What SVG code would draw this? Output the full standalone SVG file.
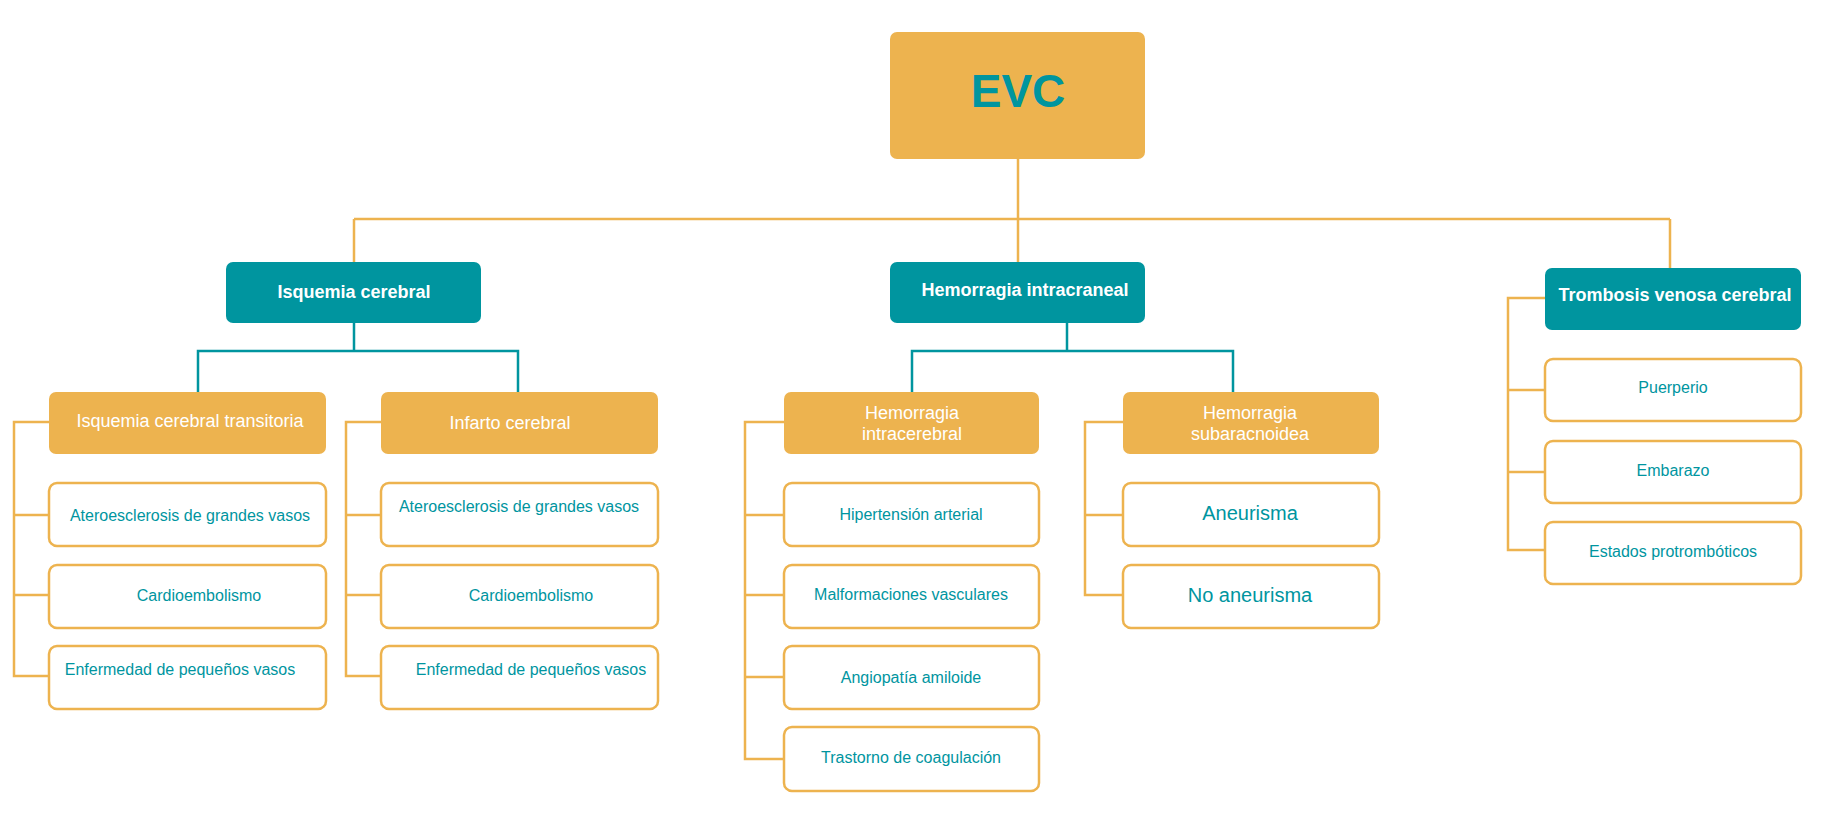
<svg xmlns="http://www.w3.org/2000/svg" width="1834" height="820" viewBox="0 0 1834 820">
<style>
.or{fill:#EDB34F}
.tl{fill:#00959F}
.wb{fill:#fff;stroke:#EDB34F;stroke-width:2.5}
.co{fill:none;stroke:#EDB34F;stroke-width:2.5}
.ct{fill:none;stroke:#00959F;stroke-width:2.5}
text{font-family:"Liberation Sans",Arial,sans-serif;text-anchor:middle}
.t1{fill:#fff;font-weight:bold;font-size:18px}
.t2{fill:#fff;font-size:18px}
.t3{fill:#00959F;font-size:16px}
.t4{fill:#00959F;font-size:20px}
</style>
<rect width="1834" height="820" fill="#fff"/>
<g id="connectors">
<path class="co" d="M1018 159V262M354 219H1670M354 219V262M1670 219V268"/>
<path class="ct" d="M354 323V351M198 392V351H518V392M1067 323V351M912 392V351H1233V392"/>
<path class="co" d="M49 422H14V676H49M14 515H49M14 595H49"/>
<path class="co" d="M381 422H346V676H381M346 515H381M346 595H381"/>
<path class="co" d="M784 422H745V759H784M745 515H784M745 595H784M745 677H784"/>
<path class="co" d="M1123 422H1085V595H1123M1085 515H1123"/>
<path class="co" d="M1545 298H1508V550H1545M1508 390H1545M1508 472H1545"/>
</g>
<g id="evc"><rect class="or" x="890" y="32" width="255" height="127" rx="7"/><text x="1018" y="107" style="fill:#00959F;font-weight:bold;font-size:46px">EVC</text></g>
<g id="isq"><rect class="tl" x="226" y="262" width="255" height="61" rx="7"/><text class="t1" x="354" y="298">Isquemia cerebral</text></g>
<g id="hic0"><rect class="tl" x="890" y="262" width="255" height="61" rx="7"/><text class="t1" x="1025" y="296">Hemorragia intracraneal</text></g>
<g id="tvc"><rect class="tl" x="1545" y="268" width="256" height="62" rx="7"/><text class="t1" x="1675" y="301">Trombosis venosa cerebral</text></g>
<g id="ict"><rect class="or" x="49" y="392" width="277" height="62" rx="7"/><text class="t2" x="190" y="427">Isquemia cerebral transitoria</text></g>
<g id="inf"><rect class="or" x="381" y="392" width="277" height="62" rx="7"/><text class="t2" x="510" y="429">Infarto cerebral</text></g>
<g id="hic"><rect class="or" x="784" y="392" width="255" height="62" rx="7"/><text class="t2" x="912" y="419">Hemorragia</text><text class="t2" x="912" y="440">intracerebral</text></g>
<g id="hsa"><rect class="or" x="1123" y="392" width="256" height="62" rx="7"/><text class="t2" x="1250" y="419">Hemorragia</text><text class="t2" x="1250" y="440">subaracnoidea</text></g>
<g id="ict1"><rect class="wb" x="49" y="483" width="277" height="63" rx="8"/><text class="t3" x="190" y="521">Ateroesclerosis de grandes vasos</text></g>
<g id="ict2"><rect class="wb" x="49" y="565" width="277" height="63" rx="8"/><text class="t3" x="199" y="601">Cardioembolismo</text></g>
<g id="ict3"><rect class="wb" x="49" y="646" width="277" height="63" rx="8"/><text class="t3" x="180" y="675">Enfermedad de pequeños vasos</text></g>
<g id="inf1"><rect class="wb" x="381" y="483" width="277" height="63" rx="8"/><text class="t3" x="519" y="512">Ateroesclerosis de grandes vasos</text></g>
<g id="inf2"><rect class="wb" x="381" y="565" width="277" height="63" rx="8"/><text class="t3" x="531" y="601">Cardioembolismo</text></g>
<g id="inf3"><rect class="wb" x="381" y="646" width="277" height="63" rx="8"/><text class="t3" x="531" y="675">Enfermedad de pequeños vasos</text></g>
<g id="hic1"><rect class="wb" x="784" y="483" width="255" height="63" rx="8"/><text class="t3" x="911" y="520">Hipertensión arterial</text></g>
<g id="hic2"><rect class="wb" x="784" y="565" width="255" height="63" rx="8"/><text class="t3" x="911" y="600">Malformaciones vasculares</text></g>
<g id="hic3"><rect class="wb" x="784" y="646" width="255" height="63" rx="8"/><text class="t3" x="911" y="683">Angiopatía amiloide</text></g>
<g id="hic4"><rect class="wb" x="784" y="727" width="255" height="64" rx="8"/><text class="t3" x="911" y="763">Trastorno de coagulación</text></g>
<g id="hsa1"><rect class="wb" x="1123" y="483" width="256" height="63" rx="8"/><text class="t4" x="1250" y="520">Aneurisma</text></g>
<g id="hsa2"><rect class="wb" x="1123" y="565" width="256" height="63" rx="8"/><text class="t4" x="1250" y="602">No aneurisma</text></g>
<g id="tvc1"><rect class="wb" x="1545" y="359" width="256" height="62" rx="8"/><text class="t3" x="1673" y="393">Puerperio</text></g>
<g id="tvc2"><rect class="wb" x="1545" y="441" width="256" height="62" rx="8"/><text class="t3" x="1673" y="476">Embarazo</text></g>
<g id="tvc3"><rect class="wb" x="1545" y="522" width="256" height="62" rx="8"/><text class="t3" x="1673" y="557">Estados protrombóticos</text></g>
</svg>
